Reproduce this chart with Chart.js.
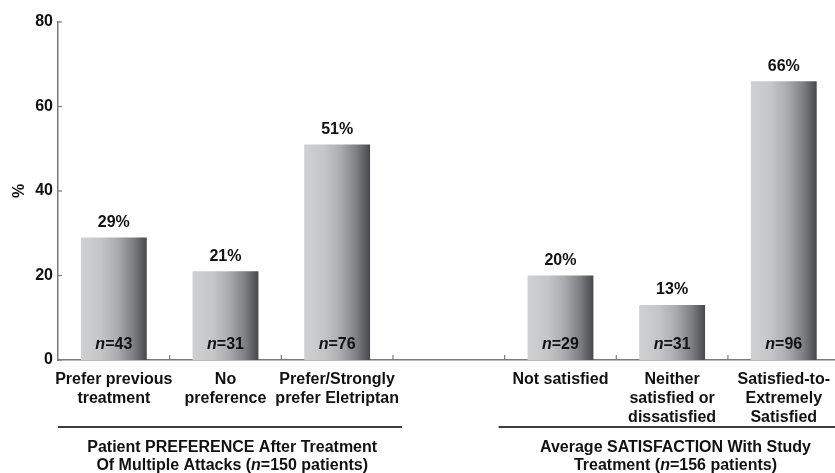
<!DOCTYPE html>
<html>
<head>
<meta charset="utf-8">
<script src="https://cdn.jsdelivr.net/npm/chart.js@4/dist/chart.umd.min.js"></script>
<style>
  html, body { margin: 0; padding: 0; background: #fff; overflow: hidden; }
  #wrap { width: 840px; height: 473px; }
</style>
</head>
<body>
<div id="wrap"><canvas id="chart" width="840" height="473"></canvas></div>
<script>
// Categories (the fourth slot is an empty spacer between the two groups)
const categories = [
  ['Prefer previous', 'treatment'],
  ['No', 'preference'],
  ['Prefer/Strongly', 'prefer Eletriptan'],
  '',
  ['Not satisfied'],
  ['Neither', 'satisfied or', 'dissatisfied'],
  ['Satisfied-to-', 'Extremely', 'Satisfied']
];
// Percentage of patients in each response category
const percentValues = [29, 21, 51, null, 20, 13, 66];
// Number of patients behind each bar
const sampleSizes = [43, 31, 76, null, 29, 31, 96];
// Y axis ticks
const yTicks = [0, 20, 40, 60, 80];
// Group captions: [text segments], segments flagged italic
const preferenceTitle = [
  [['Patient PREFERENCE After Treatment', false]],
  [['Of Multiple Attacks (', false], ['n', true], ['=150 patients)', false]]
];
const satisfactionTitle = [
  [['Average SATISFACTION With Study', false]],
  [['Treatment (', false], ['n', true], ['=156 patients)', false]]
];

const FONT = '"Liberation Sans", Arial, Helvetica, sans-serif';
const BAR_PCT = 0.59;
const TEXT = '#111111';
const AXIS = '#7a7a7a';

function barGradient(ctx) {
  const chart = ctx.chart;
  const xs = chart.scales.x;
  if (!xs || ctx.dataIndex === undefined) return '#aaa';
  const cx = xs.getPixelForTick(ctx.dataIndex);
  const w = xs.width / categories.length * BAR_PCT;
  if (!isFinite(cx) || !isFinite(w) || w <= 0) return '#aaa';
  const g = chart.ctx.createLinearGradient(cx - w / 2, 0, cx + w / 2, 0);
  g.addColorStop(0, '#cfd0d2');
  g.addColorStop(0.3, '#c5c6c8');
  g.addColorStop(0.55, '#abacaf');
  g.addColorStop(0.8, '#7d7e81');
  g.addColorStop(1, '#47484b');
  return g;
}

function drawSegments(c, segs, cx, cy) {
  let total = 0;
  const widths = segs.map(([t, it]) => {
    c.font = (it ? 'italic ' : '') + 'bold 16px ' + FONT;
    const w = c.measureText(t).width;
    total += w;
    return w;
  });
  let x = cx - total / 2;
  c.textAlign = 'left';
  c.textBaseline = 'middle';
  segs.forEach(([t, it], i) => {
    c.font = (it ? 'italic ' : '') + 'bold 16px ' + FONT;
    c.fillText(t, x, cy);
    x += widths[i];
  });
}

const annotations = {
  id: 'annotations',
  afterDatasetsDraw(chart) {
    const c = chart.ctx;
    const xs = chart.scales.x, ys = chart.scales.y;
    const area = chart.chartArea;
    c.save();
    // inward tick marks
    c.strokeStyle = AXIS;
    c.lineWidth = 1.2;
    yTicks.forEach(v => {
      const y = ys.getPixelForValue(v);
      c.beginPath(); c.moveTo(area.left, y); c.lineTo(area.left + 4, y); c.stroke();
    });
    const step = xs.width / categories.length;
    for (let i = 1; i < categories.length; i++) {
      const x = xs.left + step * i;
      c.beginPath(); c.moveTo(x, area.bottom); c.lineTo(x, area.bottom - 5); c.stroke();
    }
    // value and sample-size labels
    c.fillStyle = TEXT;
    percentValues.forEach((v, i) => {
      if (v === null) return;
      const x = xs.getPixelForTick(i);
      c.font = 'bold 16px ' + FONT;
      c.textAlign = 'center';
      c.textBaseline = 'middle';
      c.fillText(v + '%', x, ys.getPixelForValue(v) - 15);
      drawSegments(c, [['n', true], ['=' + sampleSizes[i], false]], x, area.bottom - 15);
    });
    c.restore();
  },
  afterDraw(chart) {
    const c = chart.ctx;
    const xs = chart.scales.x;
    const step = xs.width / categories.length;
    c.save();
    c.strokeStyle = '#3c3c3c';
    c.lineWidth = 2;
    const lineY = 427;
    c.beginPath(); c.moveTo(xs.left, lineY); c.lineTo(xs.left + step * 3 + 9, lineY); c.stroke();
    c.beginPath(); c.moveTo(xs.left + step * 4 - 6, lineY); c.lineTo(chart.width, lineY); c.stroke();
    c.fillStyle = TEXT;
    const leftC = xs.left + step * 1.56;
    const rightC = xs.left + step * 5.53;
    preferenceTitle.forEach((segs, k) => drawSegments(c, segs, leftC, 448 + k * 18));
    satisfactionTitle.forEach((segs, k) => drawSegments(c, segs, rightC, 448 + k * 18));
    c.restore();
  }
};

new Chart(document.getElementById('chart'), {
  type: 'bar',
  data: {
    labels: categories,
    datasets: [{
      data: percentValues,
      backgroundColor: barGradient,
      borderWidth: 0,
      barPercentage: BAR_PCT,
      categoryPercentage: 1
    }]
  },
  options: {
    responsive: false,
    animation: false,
    layout: { padding: { top: 22, right: 0, bottom: 0, left: 0 } },
    plugins: { legend: { display: false }, tooltip: { enabled: false } },
    scales: {
      x: {
        grid: { display: false, drawTicks: false },
        border: { display: true, color: AXIS, width: 1.5 },
        ticks: {
          color: TEXT,
          font: { family: FONT, size: 16, weight: 'bold', lineHeight: 1.2 },
          padding: 10,
          maxRotation: 0,
          autoSkip: false
        },
        afterFit(scale) { scale.height = 113; }
      },
      y: {
        min: 0,
        max: 80,
        afterBuildTicks(scale) { scale.ticks = yTicks.map(v => ({ value: v })); },
        grid: { display: false, drawTicks: false },
        border: { display: true, color: AXIS, width: 1.5 },
        ticks: {
          color: TEXT,
          font: { family: FONT, size: 16, weight: 'bold' },
          padding: 5
        },
        title: {
          display: true,
          text: '%',
          color: TEXT,
          font: { family: FONT, size: 16, weight: 'bold' },
          padding: { top: 10, bottom: 0 }
        },
        afterFit(scale) { scale.width = 58; }
      }
    }
  },
  plugins: [annotations]
});
</script>
</body>
</html>
